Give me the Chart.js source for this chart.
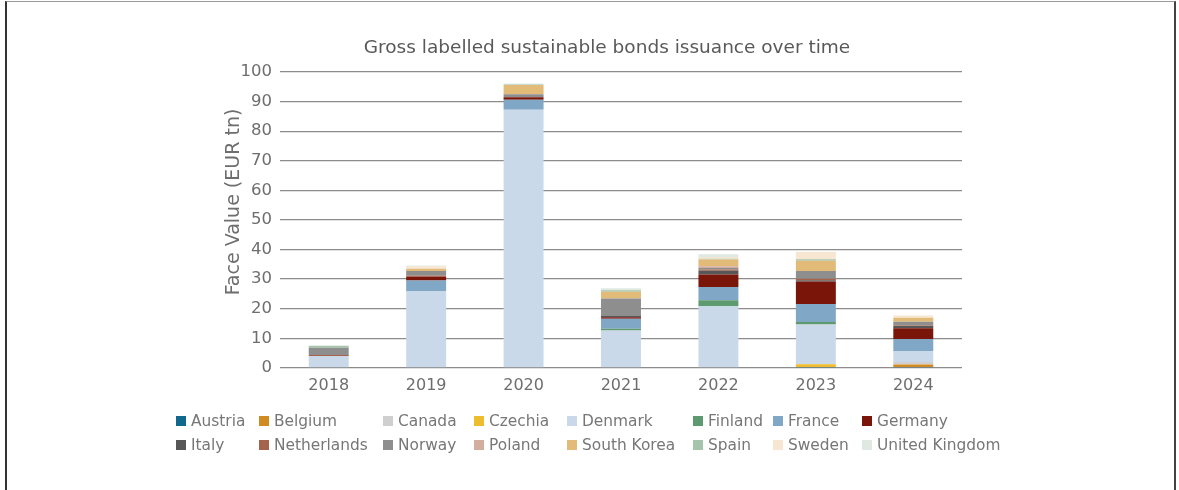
<!DOCTYPE html>
<html>
<head>
<meta charset="utf-8">
<script src="https://cdn.jsdelivr.net/npm/chart.js@4"></script>
<style>
  html, body { margin: 0; padding: 0; background: #fff; }
  body { width: 1179px; height: 490px; position: relative; overflow: hidden; font-family: "DejaVu Sans", Verdana, sans-serif; }
  #frame { position: absolute; left: 5px; top: 1px; width: 1167px; height: 490px; border-left: 2px solid #333; border-right: 2px solid #444; border-top: 1px solid #999; }
  #wrap { position: absolute; left: 0; top: 0; width: 1179px; height: 409px; }
  #legend { position: absolute; left: 0; top: 0; width: 1179px; height: 490px; pointer-events: none; }
  .li { position: absolute; display: flex; align-items: center; font-size: 15.4px; color: #777; white-space: nowrap; }
  .li span.b { width: 10px; height: 10px; display: inline-block; margin-right: 5px; }
  #ytitle { position: absolute; left: 232px; top: 202px; transform: translate(-50%, -50%) rotate(-90deg); font-size: 19px; color: #6e6e6e; white-space: nowrap; }
  #title { position: absolute; left: 607px; top: 46px; transform: translate(-50%, -50%); font-size: 18.5px; color: #595959; white-space: nowrap; }
</style>
</head>
<body>
<div id="frame"></div>
<div id="wrap"><canvas id="c" width="1179" height="409"></canvas></div>
<div id="title">Gross labelled sustainable bonds issuance over time</div>
<div id="ytitle">Face Value (EUR tn)</div>
<div id="legend"></div>
<script>
const years = ["2018","2019","2020","2021","2022","2023","2024"];
const countries = ["Austria","Belgium","Canada","Czechia","Denmark","Finland","France","Germany","Italy","Netherlands","Norway","Poland","South Korea","Spain","Sweden","United Kingdom"];
const austria      = [0,   0,    0,    0,    0,    0.3,  0.3];
const belgium      = [0,   0,    0,    0,    0,    0,    0.8];
const canada       = [0,   0,    0,    0,    0,    0,    0.9];
const czechia      = [0,   0,    0,    0,    0,    0.9,  0];
const denmark      = [4.0, 26.0, 87.2, 12.6, 20.8, 13.4, 3.7];
const finland      = [0,   0,    0,    0.6,  2.0,  0.9,  0];
const france       = [0,   3.5,  3.4,  3.4,  4.5,  6.1,  4.0];
const germany      = [0,   1.3,  0.9,  0.5,  4.2,  7.6,  3.7];
const italy        = [0,   0,    0,    0.6,  1.3,  0.4,  0.7];
const netherlands  = [0.3, 0.3,  0,    0,    0.4,  0.5,  0.2];
const norway       = [2.5, 1.6,  1.0,  5.7,  0.5,  2.6,  1.3];
const poland       = [0,   0,    0,    0,    0.6,  0,    0];
const southKorea   = [0,   0.8,  3.1,  2.3,  2.3,  3.5,  1.3];
const spain        = [0.6, 0,    0.2,  0.5,  0.3,  0.5,  0];
const sweden       = [0,   0.8,  0,    0,    0.6,  2.5,  0.8];
const unitedKingdom= [0.2, 0.3,  0.3,  0.7,  0.9,  0,    0];
const yTicks = [0,10,20,30,40,50,60,70,80,90,100];

const seriesValues = [austria, belgium, canada, czechia, denmark, finland, france, germany, italy, netherlands, norway, poland, southKorea, spain, sweden, unitedKingdom];
const colors = ["#10688c","#d18b22","#cfcfcf","#eebd2e","#c9d9e9","#5e9a6f","#80a7c6","#7a1509","#575757","#a6634b","#8e8e8e","#d3ae9e","#e3bb78","#a4c5ab","#f6e6d2","#dfe9e1"];

const datasets = countries.map((name, i) => ({
  label: name,
  data: seriesValues[i],
  backgroundColor: colors[i],
  borderWidth: 0,
  barPercentage: 0.41,
  categoryPercentage: 1.0,
  stack: "s"
}));

new Chart(document.getElementById("c"), {
  type: "bar",
  data: { labels: years, datasets },
  options: {
    responsive: false,
    animation: false,
    layout: { padding: { left: 220, right: 217, top: 72, bottom: 6 } },
    plugins: {
      legend: { display: false },
      tooltip: { enabled: false },
      title: { display: false }
    },
    scales: {
      x: {
        stacked: true,
        grid: { display: false, drawTicks: false },
        border: { display: false },
        ticks: { color: "#6e6e6e", font: { family: "DejaVu Sans", size: 16 }, padding: 8 }
      },
      y: {
        stacked: true,
        min: 0, max: 100,
        afterFit: (s) => { s.width = 60; },
        afterBuildTicks: (s) => { s.ticks = yTicks.map(v => ({ value: v })); },
        grid: { color: "#8c8c8c", lineWidth: 1.3, drawTicks: false },
        border: { display: false },
        ticks: { color: "#6e6e6e", font: { family: "DejaVu Sans", size: 16.5 }, padding: 8 },
        title: { display: false }
      }
    }
  }
});

// Legend laid out in a grid like the reference
const colX = [176, 259, 383, 474, 567, 693, 773, 862];
const rowY = [421, 445];
const leg = document.getElementById("legend");
countries.forEach((name, i) => {
  const r = Math.floor(i / 8), c = i % 8;
  const d = document.createElement("div");
  d.className = "li";
  d.style.left = colX[c] + "px";
  d.style.top = (rowY[r] - 10) + "px";
  d.style.height = "20px";
  d.innerHTML = '<span class="b" style="background:' + colors[i] + '"></span>' + name;
  leg.appendChild(d);
});
</script>
</body>
</html>
